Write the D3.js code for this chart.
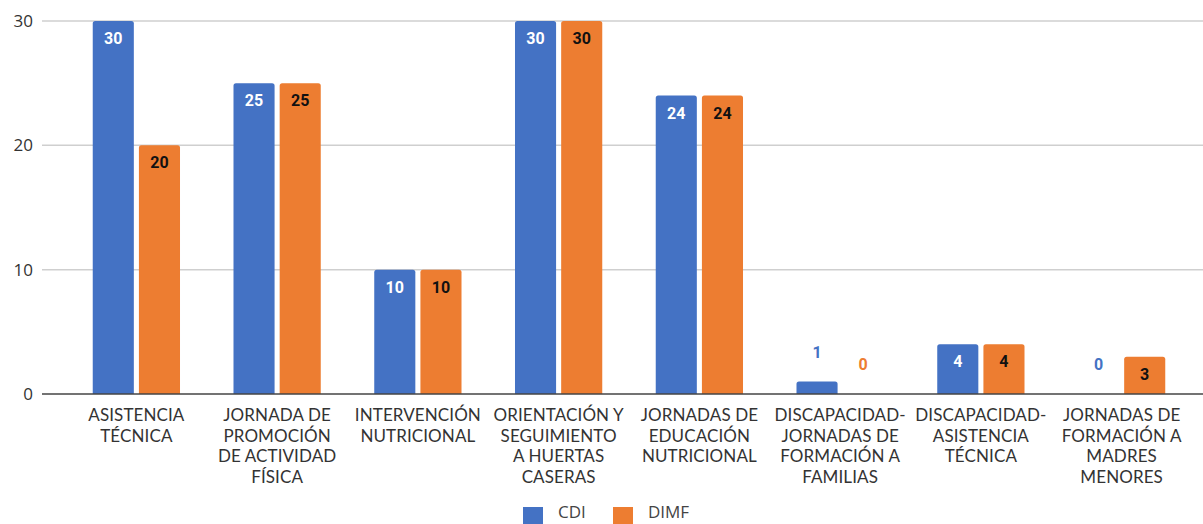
<!DOCTYPE html>
<html>
<head>
<meta charset="utf-8">
<script src="https://cdnjs.cloudflare.com/ajax/libs/d3/7.8.5/d3.min.js"></script>
<style>
  body { margin: 0; background: #fff; }
  svg { display: block; font-family: "Open Sans", "Noto Sans", sans-serif; }
</style>
</head>
<body>
<div id="chart"></div>
<script>
// chart data
var categories = [
  ["ASISTENCIA", "TÉCNICA"],
  ["JORNADA DE", "PROMOCIÓN", "DE ACTIVIDAD", "FÍSICA"],
  ["INTERVENCIÓN", "NUTRICIONAL"],
  ["ORIENTACIÓN Y", "SEGUIMIENTO", "A HUERTAS", "CASERAS"],
  ["JORNADAS DE", "EDUCACIÓN", "NUTRICIONAL"],
  ["DISCAPACIDAD-", "JORNADAS DE", "FORMACIÓN A", "FAMILIAS"],
  ["DISCAPACIDAD-", "ASISTENCIA", "TÉCNICA"],
  ["JORNADAS DE", "FORMACIÓN A", "MADRES", "MENORES"]
];
var seriesNames = ["CDI", "DIMF"];
var cdi  = [30, 25, 10, 30, 24, 1, 4, 0];
var dimf = [20, 25, 10, 30, 24, 0, 4, 3];
var yTicks = [0, 10, 20, 30];

var colors = ["#4472c4", "#ed7d31"];
var width = 1203, height = 524;

var svg = d3.select("#chart").append("svg")
  .attr("width", width)
  .attr("height", height);

var y = d3.scaleLinear().domain([0, 30]).range([394, 21]);

var x0 = d3.scaleBand()
  .domain(d3.range(categories.length))
  .range([66, 1192])
  .paddingInner(0.38)
  .paddingOuter(0.19);

var x1 = d3.scaleBand()
  .domain(seriesNames)
  .range([0, x0.bandwidth()])
  .paddingInner(0.11);

// gridlines
svg.append("g").selectAll("line")
  .data(yTicks.filter(function(d) { return d > 0; }))
  .enter().append("line")
  .attr("x1", 42).attr("x2", width)
  .attr("y1", function(d) { return y(d); })
  .attr("y2", function(d) { return y(d); })
  .attr("stroke", "#cfcfcf")
  .attr("stroke-width", 1.5);

// y tick labels
svg.append("g").selectAll("text")
  .data(yTicks)
  .enter().append("text")
  .attr("x", 33)
  .attr("y", function(d) { return y(d); })
  .attr("dy", "0.35em")
  .attr("text-anchor", "end")
  .attr("font-size", 17)
  .attr("fill", "#333")
  .text(function(d) { return d; });

var rows = categories.map(function(c, i) {
  return { i: i, vals: [cdi[i], dimf[i]] };
});

var groups = svg.append("g").selectAll("g")
  .data(rows)
  .enter().append("g")
  .attr("transform", function(d) { return "translate(" + x0(d.i) + ",0)"; });

var bars = groups.selectAll("g.bar")
  .data(function(d) {
    return d.vals.map(function(v, k) { return { v: v, k: k }; });
  })
  .enter().append("g").attr("class", "bar");

bars.filter(function(d) { return d.v > 0; })
  .append("path")
  .attr("fill", function(d) { return colors[d.k]; })
  .attr("d", function(d) {
    var bx = x1(seriesNames[d.k]), bw = x1.bandwidth();
    var top = y(d.v), bot = y(0), r = 2.5;
    return "M" + bx + "," + bot +
      "V" + (top + r) +
      "Q" + bx + "," + top + " " + (bx + r) + "," + top +
      "H" + (bx + bw - r) +
      "Q" + (bx + bw) + "," + top + " " + (bx + bw) + "," + (top + r) +
      "V" + bot + "Z";
  });

// value labels: inside the top of the bar, or above it when the bar is short
bars.append("text")
  .attr("x", function(d) { return x1(seriesNames[d.k]) + x1.bandwidth() / 2; })
  .attr("y", function(d) {
    var inside = (y(0) - y(d.v)) > 30;
    return inside ? y(d.v) + 23 : y(d.v) - 24;
  })
  .attr("text-anchor", "middle")
  .attr("font-size", 16)
  .attr("font-weight", "bold")
  .attr("font-family", "Roboto, 'Open Sans', sans-serif")
  .attr("fill", function(d) {
    var inside = (y(0) - y(d.v)) > 30;
    if (!inside) return colors[d.k];
    return d.k == 0 ? "#fff" : "#111";
  })
  .text(function(d) { return d.v; });

// baseline
svg.append("line")
  .attr("x1", 42).attr("x2", width)
  .attr("y1", y(0)).attr("y2", y(0))
  .attr("stroke", "#444")
  .attr("stroke-width", 1.5);

// category labels, one text per line
svg.append("g").selectAll("g")
  .data(categories)
  .enter().append("g")
  .each(function(lines, i) {
    var g = d3.select(this);
    var cx = x0(i) + x0.bandwidth() / 2;
    lines.forEach(function(l, j) {
      g.append("text")
        .attr("x", cx)
        .attr("y", 421 + j * 20.5)
        .attr("text-anchor", "middle")
        .attr("font-family", "Lato, 'Open Sans', sans-serif")
        .attr("font-size", 17)
        .attr("letter-spacing", 0.1)
        .attr("fill", "#333")
        .text(l);
    });
  });

// legend
var legend = svg.append("g").attr("transform", "translate(523,507)");
var lx = [0, 90];
seriesNames.forEach(function(n, i) {
  legend.append("rect")
    .attr("x", lx[i]).attr("y", 0)
    .attr("width", 20).attr("height", 20)
    .attr("fill", colors[i]);
  legend.append("text")
    .attr("x", lx[i] + 35).attr("y", 5)
    .attr("dy", "0.35em")
    .attr("font-size", 17)
    .attr("fill", "#444")
    .text(n);
});
</script>
</body>
</html>
